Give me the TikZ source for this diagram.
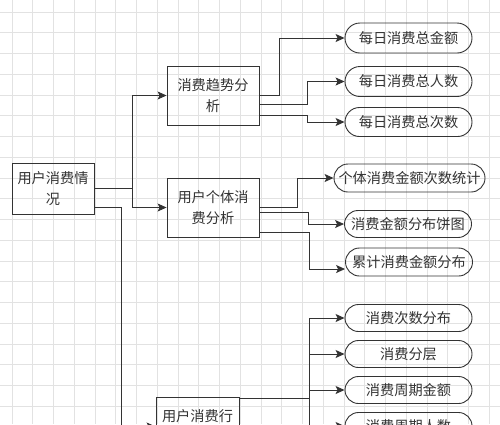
\documentclass[tikz,border=0pt]{standalone}
\usepackage{fontspec}
\setmainfont{Noto Sans CJK SC}
\usepackage{xcolor}
\usepackage{tikz}
\usetikzlibrary{shapes.misc, arrows.meta}
\definecolor{ink}{HTML}{333333}
\definecolor{gridgray}{HTML}{E2E2E2}
\tikzstyle{gridline} = [draw=gridgray, line width=0.7pt]
\tikzstyle{box} = [rectangle, minimum width=82pt, minimum height=59pt, align=center, draw=ink, line width=0.9pt, text=ink, inner sep=2pt]
\tikzstyle{leaf} = [rounded rectangle, minimum width=131pt, minimum height=27pt, text centered, draw=ink, line width=0.9pt, text=ink, inner sep=2pt]
\tikzstyle{arrow} = [draw=ink, line width=0.9pt, -{Stealth[length=9pt,width=8pt,inset=2pt]}]

\begin{document}
\begin{tikzpicture}[x=1pt, y=-1pt, font=\fontsize{14.2}{21}\selectfont]
   \useasboundingbox (0,0) rectangle (500,424);
   \clip (0,0) rectangle (500,424);
   \fill[white] (0,0) rectangle (500,424);
   \foreach \i in {0,...,23} \draw[gridline] (12+\i*20.75,0) -- ++(0,424);
   \foreach \i in {0,...,19} \draw[gridline] (0,12+\i*20.75) -- ++(500,0);

   \node (root) [box, minimum height=51pt] at (53,188.5) {用户消费情\\况};
   \node (trend) [box, minimum width=92pt] at (213,95.5) {消费趋势分\\析};
   \node (person) [box, minimum width=92pt] at (213,207.5) {用户个体消\\费分析};
   \node (behav) [box, minimum width=83pt] at (197.5,426.5) {用户消费行\\\phantom{行}};

   \node (daysum) [leaf, minimum height=30pt] at (408.5,38) {每日消费总金额};
   \node (dayppl) [leaf, minimum height=30pt] at (408.5,81.5) {每日消费总人数};
   \node (daycnt) [leaf, minimum height=29pt] at (408.5,122) {每日消费总次数};
   \node (stat) [leaf, minimum width=155pt, minimum height=28pt] at (409.5,178) {个体消费金额次数统计};
   \node (pie) [leaf] at (408,224) {消费金额分布饼图};
   \node (cumu) [leaf, minimum height=28pt] at (409,262) {累计消费金额分布};
   \node (cntdist) [leaf] at (408.5,318) {消费次数分布};
   \node (layer) [leaf] at (408.5,354) {消费分层};
   \node (cycsum) [leaf] at (408.5,390) {消费周期金额};
   \node (cycppl) [leaf] at (408.5,426) {消费周期人数};

   \draw [arrow] (root.east) -- ++(38,0) |- (trend.west);
   \draw [arrow] (root.east) -- ++(38,0) |- (person.west);
   \draw [arrow] ([yshift=-18.5pt]root.east) -- ++(27,0) |- (behav.west);

   \draw [arrow] (trend.east) -- ++(20,0) |- (daysum.west);
   \draw [arrow] ([yshift=-8.5pt]trend.east) -- ++(48,0) |- (dayppl.west);
   \draw [arrow] ([yshift=-19.5pt]trend.east) -- ++(48,0) |- (daycnt.west);

   \draw [arrow] (person.east) -- ++(38,0) |- (stat.west);
   \draw [arrow] ([yshift=-4.5pt]person.east) -- ++(49,0) |- (pie.west);
   \draw [arrow] ([yshift=-24.5pt]person.east) -- ++(50,0) |- ([yshift=-7pt]cumu.west);

   \coordinate (bout) at ([yshift=-2pt]behav.north east);
   \draw [arrow] (bout) -- ++(70,0) |- (cntdist.west);
   \draw [arrow] (bout) -- ++(70,0) |- (layer.west);
   \draw [arrow] (bout) -- ++(70,0) |- (cycsum.west);
   \draw [arrow] (bout) -- ++(70,0) |- (cycppl.west);
\end{tikzpicture}
\end{document}
